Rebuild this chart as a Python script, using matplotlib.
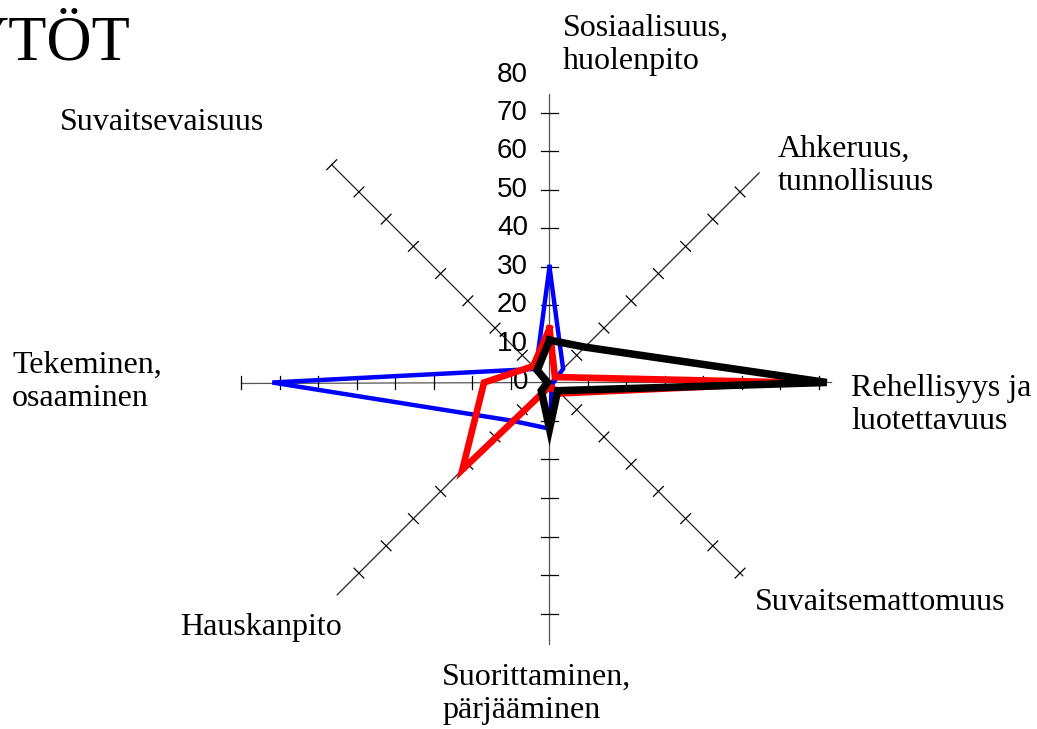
import matplotlib
matplotlib.use('Agg')
import matplotlib.pyplot as plt
import numpy as np

# kategoriat, ylhäältä myötäpäivään
categories = ['Sosiaalisuus,\nhuolenpito', 'Ahkeruus,\ntunnollisuus',
              'Rehellisyys ja\nluotettavuus', 'Suvaitsemattomuus',
              'Suorittaminen,\npärjääminen', 'Hauskanpito',
              'Tekeminen,\nosaaminen', 'Suvaitsevaisuus']
blue_vals = [30, 5, 1, 1, 12, 14, 72, 5]
red_vals = [14, 2, 64, 4, 1, 32, 17, 6]
black_vals = [11, 13, 72, 3, 12, 3, 0.5, 4.5]
tick_values = [0, 10, 20, 30, 40, 50, 60, 70, 80]
title = 'YTÖT'

W, H = 1037, 729
cx, cy = 549.5, 382.5   # keskipiste pikseleinä
scale = 3.85            # px / yksikkö

# näkyvä akselin pituus (tekstilaatikot peittävät päät)
axis_len = [75, 77, 73, 71, 68, 78, 80, 80]

fig = plt.figure(figsize=(W / 100, H / 100), dpi=100)
ax = fig.add_axes([0, 0, 1, 1])
ax.set_xlim(-cx / scale, (W - cx) / scale)
ax.set_ylim(-(H - cy) / scale, cy / scale)
ax.axis('off')

angles = np.arange(len(categories)) * 2 * np.pi / len(categories)


def to_xy(vals):
    v = np.asarray(vals, dtype=float)
    return v * np.sin(angles), v * np.cos(angles)


# akselit ja rastit
for a, L in zip(angles, axis_len):
    dx, dy = np.sin(a), np.cos(a)
    col = '#555555' if np.isclose(dx * dy, 0) else '#222222'
    ax.plot([0, L * dx], [0, L * dy], color=col, lw=0.9, zorder=1)
    px, py = -dy, dx
    for t in range(10, int(L) + 1, 10):
        hl = 2.3 if np.isclose(dx, 0) else 1.8
        ax.plot([t * dx - hl * px, t * dx + hl * px],
                [t * dy - hl * py, t * dy + hl * py],
                color='black', lw=0.9, zorder=1)

# sarjat
for vals, col, lw in [(blue_vals, '#0000ff', 3.2),
                      (red_vals, '#ff0000', 4.8),
                      (black_vals, '#000000', 5.4)]:
    x, y = to_xy(vals)
    x = np.append(x, x[0])
    y = np.append(y, y[0])
    ax.plot(x, y, color=col, lw=lw, solid_joinstyle='miter', zorder=3)

# pystyakselin luvut
for v in tick_values:
    ax.text(-5.6, v, str(v), ha='right', va='center', fontsize=20,
            family='Liberation Sans', zorder=2)

# kategoriatekstit
label_pos = [(563, 45), (778, 166), (851, 405), (755, 602),
             (442, 694), (180, 628), (12, 382), (60, 123)]
for lab, (lx, ly) in zip(categories, label_pos):
    fig.text(lx / W, 1 - ly / H, lab, ha='left', va='center',
             fontsize=23, family='Liberation Serif', linespacing=1.2)

fig.text(130 / W, 1 - 45 / H, title, ha='right', va='center',
         fontsize=45, family='Liberation Serif')

fig.savefig('out.png', dpi=100)
